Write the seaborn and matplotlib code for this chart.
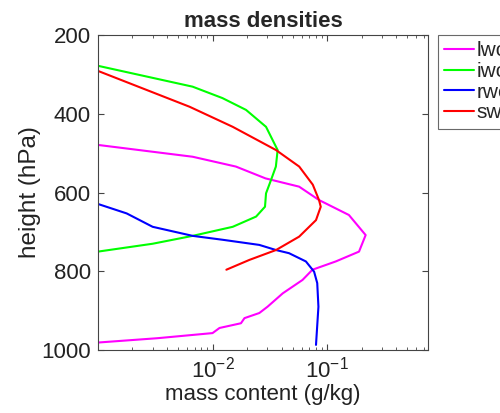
import numpy as np
import pandas as pd
import matplotlib
matplotlib.use("Agg")
import matplotlib.pyplot as plt
import seaborn as sns

lwc_x = [0.001, 0.0033, 0.01, 0.0115, 0.0177, 0.019, 0.0256, 0.0302, 0.041, 0.061, 0.0745, 0.119, 0.19, 0.217, 0.155, 0.085, 0.057, 0.029, 0.016, 0.0067, 0.001]
lwc_p = [981, 970, 957, 944, 932, 919, 906, 890, 856, 822, 796, 775, 750, 708, 657, 619, 585, 564, 534, 509, 479]
iwc_x = [0.001, 0.0067, 0.0122, 0.0196, 0.0293, 0.037, 0.0357, 0.0324, 0.0293, 0.0287, 0.024, 0.015, 0.0067, 0.003, 0.001]
iwc_p = [278, 331, 360, 390, 433, 492, 534, 568, 602, 636, 661, 687, 710, 730, 750]
rwc_x = [0.001, 0.00178, 0.003, 0.0067, 0.0123, 0.0256, 0.0358, 0.0465, 0.0653, 0.077, 0.082, 0.084, 0.080]
rwc_p = [629, 653, 687, 710, 720, 733, 746, 754, 775, 801, 830, 890, 987]
swc_x = [0.001, 0.0063, 0.015, 0.0358, 0.0571, 0.075, 0.085, 0.088, 0.08, 0.057, 0.0358, 0.021, 0.0132]
swc_p = [291, 382, 433, 492, 534, 580, 619, 636, 670, 712, 746, 771, 796]

names = ["lwc", "iwc", "rwc", "swc"]
colors = ["#ff00ff", "#00ff00", "#0000ff", "#ff0000"]

frames = []
for n, xs, ps in zip(names, [lwc_x, iwc_x, rwc_x, swc_x], [lwc_p, iwc_p, rwc_p, swc_p]):
    frames.append(pd.DataFrame({"x": xs, "p": ps, "var": n}))
df = pd.concat(frames, ignore_index=True)

sns.set_style("ticks")
plt.rcParams["font.family"] = ["Liberation Sans", "DejaVu Sans"]

fig = plt.figure(figsize=(5.0, 4.13), dpi=100)
ax = fig.add_axes([0.196, 0.1525, 0.66, 0.7625])
sns.lineplot(data=df, x="x", y="p", hue="var", palette=colors, sort=False,
             estimator=None, ax=ax, linewidth=1.5)
ax.set_xscale("log")
ax.set_xlim(1e-3, 0.76)
ax.set_ylim(1000, 200)
ax.set_yticks([200, 400, 600, 800, 1000])
ax.set_xticks([1e-2, 1e-1])
ax.set_xticklabels(["$\\mathregular{10^{-2}}$", "$\\mathregular{10^{-1}}$"])
ax.tick_params(direction="in", top=True, right=True, labelsize=16, color="#444444", length=4,
               labelcolor="#222222", pad=5)
ax.tick_params(which="minor", direction="in", top=True, right=True, color="#444444", length=2)
for s in ax.spines.values():
    s.set_visible(True)
    s.set_color("#444444")
    s.set_linewidth(0.8)
ax.set_xlabel("mass content (g/kg)", fontsize=16, color="#222222", labelpad=1)
ax.set_ylabel("height (hPa)", fontsize=17.5, color="#222222", labelpad=0)
ax.set_title("mass densities", fontsize=16, fontweight="bold", pad=6)

leg = ax.legend(loc="upper left", bbox_to_anchor=(1.03, 1.0), borderaxespad=0,
                fontsize=15, frameon=True, fancybox=False, edgecolor="#444444",
                handlelength=1.45, labelspacing=0.08, handletextpad=0.1, borderpad=0.3)
leg.get_frame().set_linewidth(0.8)
fig.savefig("out.png", dpi=100)
